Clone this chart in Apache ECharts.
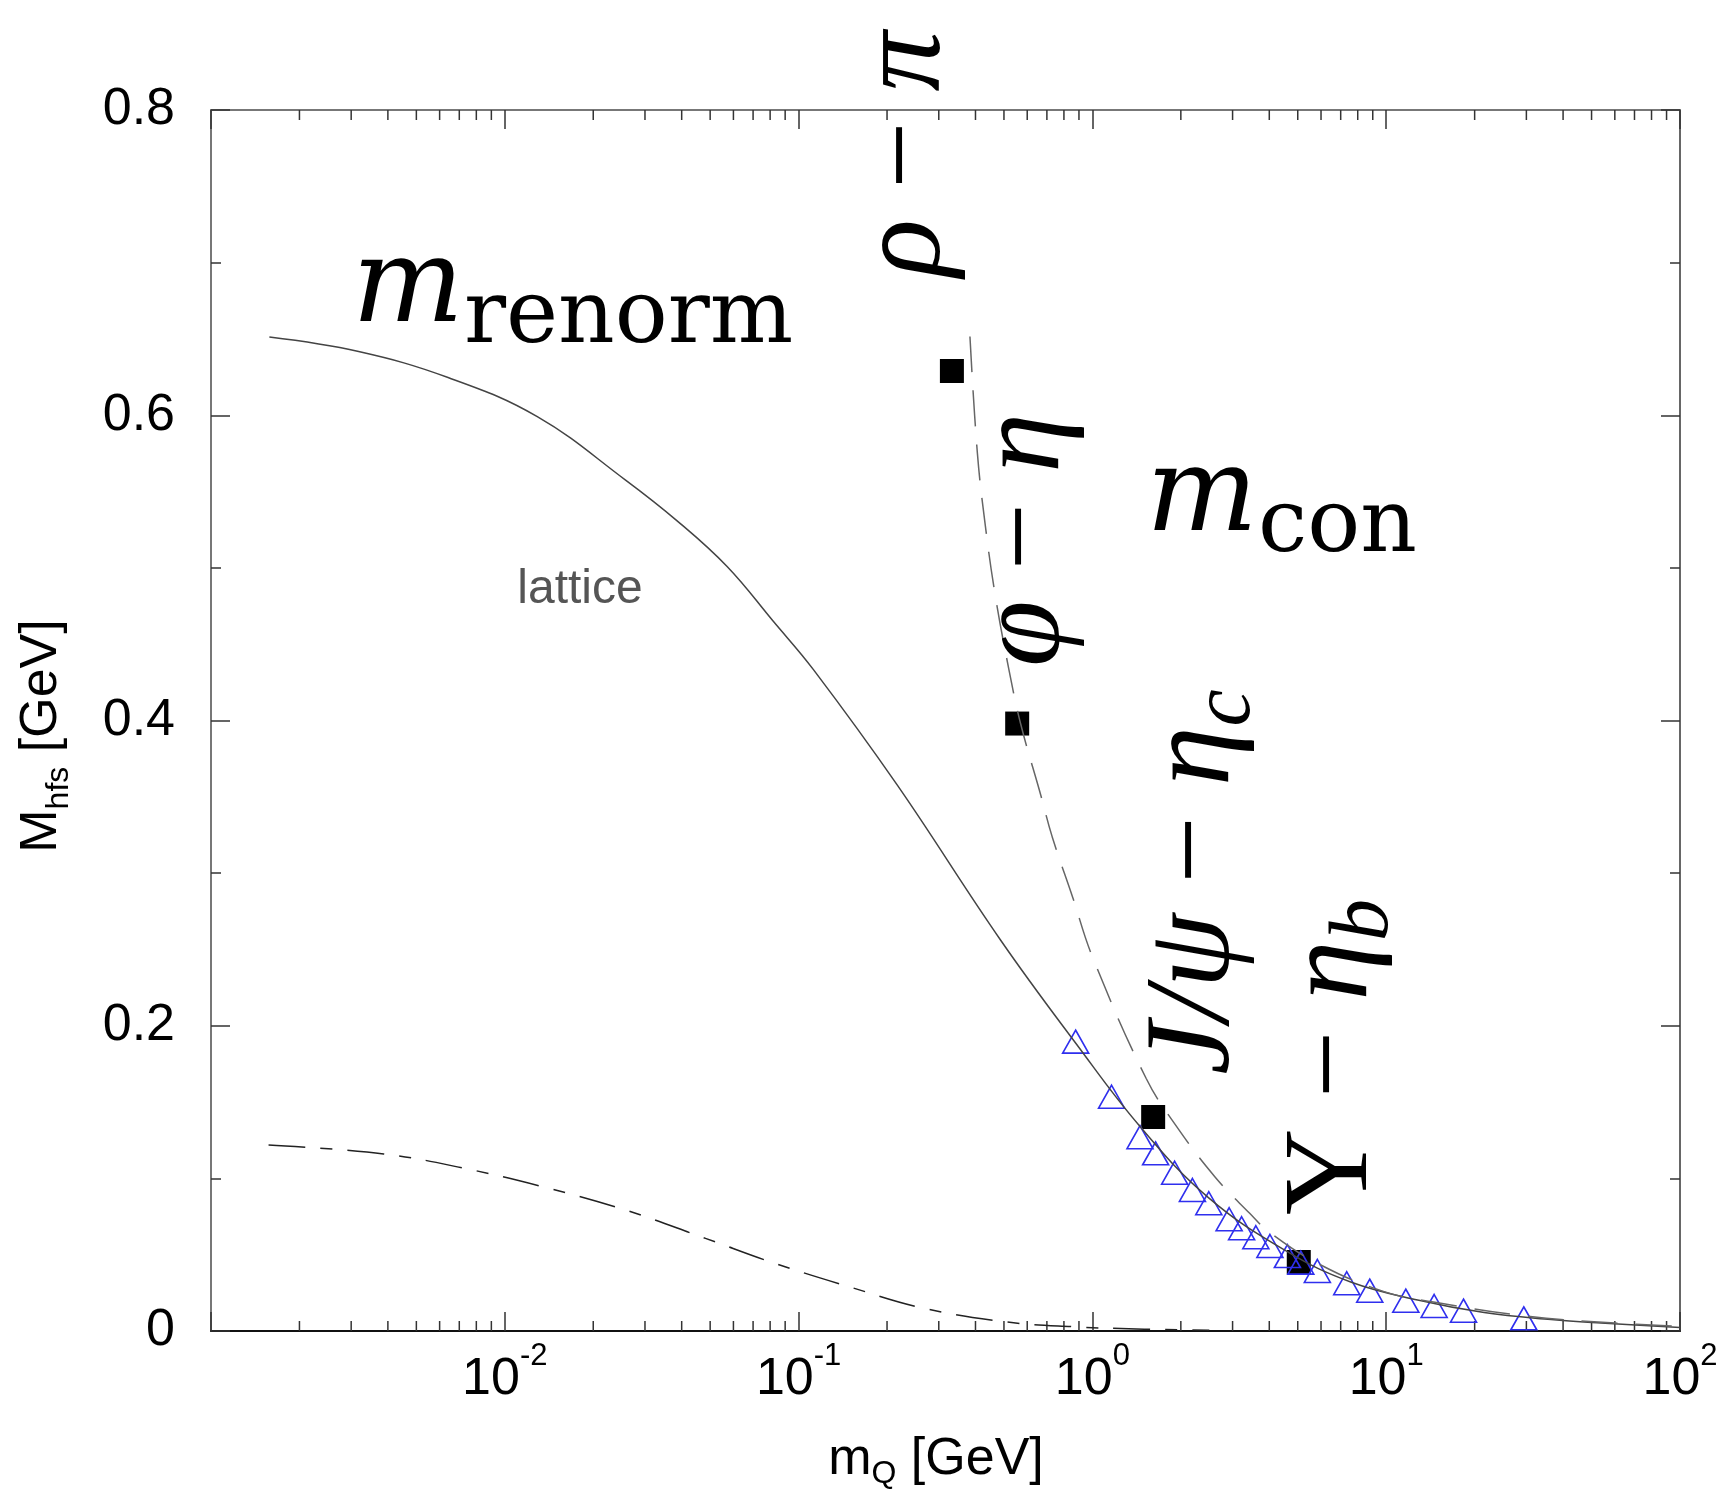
<!DOCTYPE html>
<html style="height: 100%">
<head>
   <meta charset="utf-8">
</head>
<style>
    body, html, #chart {
        width: 100%;
        height: 100%;
        margin: 0;
        background: #fff;
    }
</style>
<title>M_hfs vs m_Q</title>
<script src="https://cdn.jsdelivr.net/npm/echarts@6/dist/echarts.min.js"></script>
<body>
   <div id="chart"></div>
   <script type="text/javascript">
    // m_renorm curve (solid)
    var solidX = [0.00158, 0.00318, 0.00641, 0.0129, 0.0257, 0.0385, 0.0571, 0.0820, 0.1125, 0.2165, 0.4867, 0.8766, 1.448, 2.488, 4.62, 7.57, 12.79, 21.55, 36.4, 53.8, 100];
    var solidY = [0.6512, 0.6417, 0.6247, 0.5991, 0.5577, 0.5310, 0.5009, 0.4650, 0.4332, 0.3578, 0.2562, 0.1887, 0.1343, 0.0872, 0.0518, 0.0321, 0.0203, 0.0121, 0.0075, 0.0052, 0.0023];
    // m_con curve (dashed)
    var dashX = [0.383, 0.406, 0.4325, 0.4677, 0.520, 0.5695, 0.667, 0.7295, 0.856, 1.0, 1.523, 1.936, 2.61, 3.43, 3.98, 5.83, 9.84, 15, 30, 60, 100];
    var dashY = [0.6516, 0.5752, 0.527, 0.4812, 0.4332, 0.398, 0.3512, 0.3239, 0.2844, 0.2453, 0.1656, 0.1339, 0.1011, 0.0771, 0.0651, 0.0444, 0.0258, 0.0185, 0.0098, 0.0052, 0.003];
    // lower dash-dot curve
    var dotX = [0.00157, 0.00387, 0.00728, 0.01368, 0.0257, 0.0482, 0.0828, 0.1486, 0.2667, 0.501, 0.861, 1.5, 2.5];
    var dotY = [0.1219, 0.116, 0.1066, 0.0942, 0.0793, 0.0607, 0.0444, 0.029, 0.0149, 0.0061, 0.0028, 0.0012, 0.0005];
    // experimental hyperfine splittings (squares)
    var expX = [0.3325, 0.5546, 1.61, 5.04];
    var expY = [0.629, 0.398, 0.1402, 0.0452];
    // lattice points (triangles)
    var latX = [0.877, 1.162, 1.452, 1.641, 1.905, 2.19, 2.49, 2.92, 3.22, 3.60, 4.02, 4.61, 5.12, 5.83, 7.34, 8.79, 11.66, 14.56, 18.33, 29.4];
    var latY = [0.1896, 0.1535, 0.127, 0.1164, 0.1037, 0.0924, 0.0837, 0.0732, 0.0673, 0.0614, 0.0557, 0.0491, 0.0448, 0.0393, 0.0313, 0.0264, 0.0199, 0.0164, 0.0133, 0.0083];
    // minor ticks of the log axis
    var xMinorTicks = [];
    [0.001, 0.01, 0.1, 1, 10].forEach(function (d) {
        for (var k = 2; k <= 9; k++) xMinorTicks.push(+(d * k).toPrecision(3));
    });

    function zip(xs, ys) {
        return xs.map(function (x, i) { return [x, ys[i]]; });
    }

    var sans = 'Liberation Sans';
    var serif = 'DejaVu Serif';
    var times = 'Liberation Serif';
    var tickColor = '#333';

    var chart = echarts.init(document.getElementById('chart'));

    var greekRich = {
        i: {fontFamily: times, fontStyle: 'italic', fontSize: 120, lineHeight: 145, fill: '#000'},
        r: {fontFamily: times, fontSize: 120, lineHeight: 145, fill: '#000'},
        s: {fontFamily: times, fontStyle: 'italic', fontSize: 84, lineHeight: 84, verticalAlign: 'bottom', fill: '#000'}
    };
    var bigRich = {
        m: {fontFamily: serif, fontStyle: 'italic', fontSize: 118, lineHeight: 146, fill: '#000'},
        s: {fontFamily: serif, fontSize: 88, lineHeight: 88, verticalAlign: 'bottom', fill: '#000'}
    };
    var sep = '{r| \u2212 }';

    function rotLabel(x, y, text) {
        return {
            type: 'text', x: x, y: y, rotation: Math.PI / 2, z: 100,
            style: {text: text, rich: greekRich, align: 'center', verticalAlign: 'middle'}
        };
    }

    var option = {
        animation: false,
        backgroundColor: '#fff',
        grid: {left: 211, right: 44, top: 110, bottom: 161, outerBoundsMode: 'none'},
        xAxis: [{
            type: 'log', logBase: 10, min: 0.001, max: 100, position: 'bottom',
            axisLine: {onZero: false, lineStyle: {color: '#111', width: 2}},
            axisTick: {inside: true, length: 19, lineStyle: {color: tickColor, width: 1.5}},
            splitLine: {show: false},
            axisLabel: {
                margin: 10,
                formatter: function (v) {
                    var e = Math.round(Math.log10(v));
                    if (e === -3) return '';
                    return '{b|10}{s|' + e + '}';
                },
                rich: {
                    b: {fontFamily: sans, fontSize: 52, lineHeight: 77, color: '#000'},
                    s: {fontFamily: sans, fontSize: 31, lineHeight: 30, verticalAlign: 'top', color: '#000'}
                }
            }
        }, {
            type: 'log', logBase: 10, min: 0.001, max: 100, position: 'top',
            axisLine: {onZero: false, lineStyle: {color: '#777', width: 2}},
            axisTick: {inside: true, length: 19, lineStyle: {color: tickColor, width: 1.5}},
            axisLabel: {show: false},
            splitLine: {show: false}
        }],
        yAxis: [{
            type: 'value', min: 0, max: 0.8, interval: 0.2,
            axisLine: {show: true, onZero: false, lineStyle: {color: '#777', width: 2}},
            axisTick: {show: true, inside: true, length: 19, lineStyle: {color: tickColor, width: 1.5}},
            minorTick: {show: true, splitNumber: 2, length: 10, lineStyle: {color: tickColor, width: 1.5}},
            splitLine: {show: false},
            axisLabel: {fontFamily: sans, fontSize: 52, margin: 36, color: '#000'}
        }, {
            type: 'value', min: 0, max: 0.8, interval: 0.2, position: 'right',
            axisLine: {show: true, onZero: false, lineStyle: {color: '#666', width: 2}},
            axisTick: {show: true, inside: true, length: 19, lineStyle: {color: tickColor, width: 1.5}},
            minorTick: {show: true, splitNumber: 2, length: 10, lineStyle: {color: tickColor, width: 1.5}},
            splitLine: {show: false},
            axisLabel: {show: false}
        }],
        series: [{
            type: 'custom', silent: true, clip: false,
            data: xMinorTicks.map(function (v) { return [v, 0]; }),
            encode: {x: 0, y: 1},
            renderItem: function (params, api) {
                var v = api.value(0);
                var pb = api.coord([v, 0]);
                var pt = api.coord([v, 0.8]);
                var st = {stroke: tickColor, lineWidth: 1.5};
                return {
                    type: 'group', children: [
                        {type: 'line', shape: {x1: pb[0], y1: pb[1], x2: pb[0], y2: pb[1] - 10}, style: st},
                        {type: 'line', shape: {x1: pt[0], y1: pt[1], x2: pt[0], y2: pt[1] + 10}, style: st}
                    ]
                };
            }
        }, {
            name: 'renorm', type: 'line', data: zip(solidX, solidY),
            showSymbol: false, smooth: 0.4,
            lineStyle: {color: '#444', width: 1.5}
        }, {
            name: 'con', type: 'line', data: zip(dashX, dashY),
            showSymbol: false, smooth: 0.4,
            lineStyle: {color: '#666', width: 1.5, type: [36, 18]}
        }, {
            name: 'lower', type: 'line', data: zip(dotX, dotY),
            showSymbol: false, smooth: 0.4,
            lineStyle: {color: '#222', width: 1.5, type: [37, 15, 12, 15]}
        }, {
            name: 'exp', type: 'scatter', data: zip(expX, expY),
            symbol: 'rect', symbolSize: 24,
            itemStyle: {color: '#000', opacity: 1}
        }, {
            name: 'lattice', type: 'scatter', data: zip(latX, latY),
            symbol: 'triangle', symbolSize: [26, 23],
            itemStyle: {color: 'rgba(0,0,0,0)', borderColor: '#2f2fee', borderWidth: 1.6, opacity: 1}
        }],
        graphic: {elements: [
            {type: 'text', x: 352, y: 290, z: 100,
             style: {text: '{m|m}{s|renorm}', rich: bigRich, align: 'left', verticalAlign: 'middle'}},
            {type: 'text', x: 1146, y: 499, z: 100,
             style: {text: '{m|m}{s|con}', rich: bigRich, align: 'left', verticalAlign: 'middle'}},
            {type: 'text', x: 580, y: 590, z: 100,
             style: {text: 'lattice', fontFamily: sans, fontSize: 48, fill: '#555', align: 'center', verticalAlign: 'middle'}},
            rotLabel(907, 154, '{i|\u03c1}' + sep + '{i|\u03c0}'),
            rotLabel(1026, 540, '{i|\u03c6}' + sep + '{i|\u03b7}'),
            rotLabel(1196, 882, '{i|J/\u03c8}' + sep + '{i|\u03b7}{s|c}'),
            rotLabel(1334, 1057, '{r|\u03a5}' + sep + '{i|\u03b7}{s|b}'),
            {type: 'text', x: 936, y: 1460, z: 100,
             style: {text: '{m|m}{s|Q}{m| [GeV]}', align: 'center', verticalAlign: 'middle', rich: {
                 m: {fontFamily: sans, fontSize: 52, lineHeight: 60, fill: '#000'},
                 s: {fontFamily: sans, fontSize: 32, lineHeight: 32, verticalAlign: 'bottom', fill: '#000'}
             }}},
            {type: 'text', x: 42, y: 736, rotation: Math.PI / 2, z: 100,
             style: {text: '{m|M}{s|hfs}{m| [GeV]}', align: 'center', verticalAlign: 'middle', rich: {
                 m: {fontFamily: sans, fontSize: 52, lineHeight: 66, fill: '#000'},
                 s: {fontFamily: sans, fontSize: 32, lineHeight: 32, verticalAlign: 'bottom', fill: '#000'}
             }}}
        ]}
    };
    chart.setOption(option);
   </script>
</body>
</html>
